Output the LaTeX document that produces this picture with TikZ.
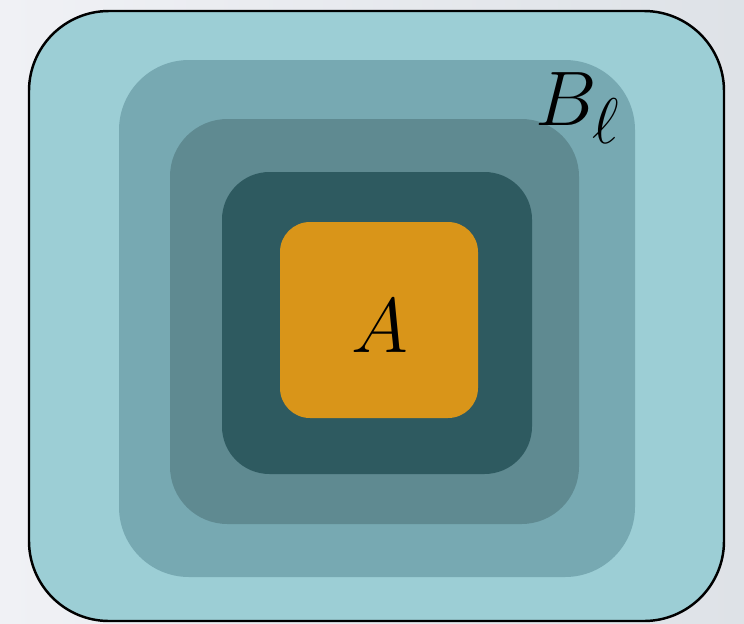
\documentclass[tikz,border=0pt]{standalone}
\usepackage{graphicx}
\usepackage{tikz}
\usetikzlibrary{positioning}
\definecolor{bgleft}{HTML}{F0F1F5}
\definecolor{bgright}{HTML}{DEE2E7}
\definecolor{ringone}{HTML}{9CCED5}
\definecolor{ringtwo}{HTML}{77A9B2}
\definecolor{ringthree}{HTML}{5F8A91}
\definecolor{ringfour}{HTML}{2E5A60}
\definecolor{core}{HTML}{D99519}
\newcommand{\biglabel}[1]{\scalebox{1.77}{\Huge #1}}
\begin{document}
\begin{tikzpicture}[x=0.02cm, y=-0.02cm]
% background
\shade[left color=bgleft, right color=bgright] (0,0) rectangle (744,623);
\useasboundingbox (0,0) rectangle (744,623);
% nested rounded boxes
\filldraw[fill=ringone, draw=black, line width=1.4pt, rounded corners=1.6cm] (29,11) rectangle (724,621);
\fill[ringtwo, rounded corners=1.4cm] (119,60) rectangle (635,577);
\fill[ringthree, rounded corners=1.15cm] (170,119) rectangle (579,524);
\fill[ringfour, rounded corners=0.95cm] (222,172) rectangle (532,474);
\fill[core, rounded corners=0.6cm] (280,222) rectangle (478,418);
% labels
\node (setB) at (578,108) {\biglabel{$B_\ell$}};
\node (setA) at (380,326) {\biglabel{$A$}};
\end{tikzpicture}
\end{document}
